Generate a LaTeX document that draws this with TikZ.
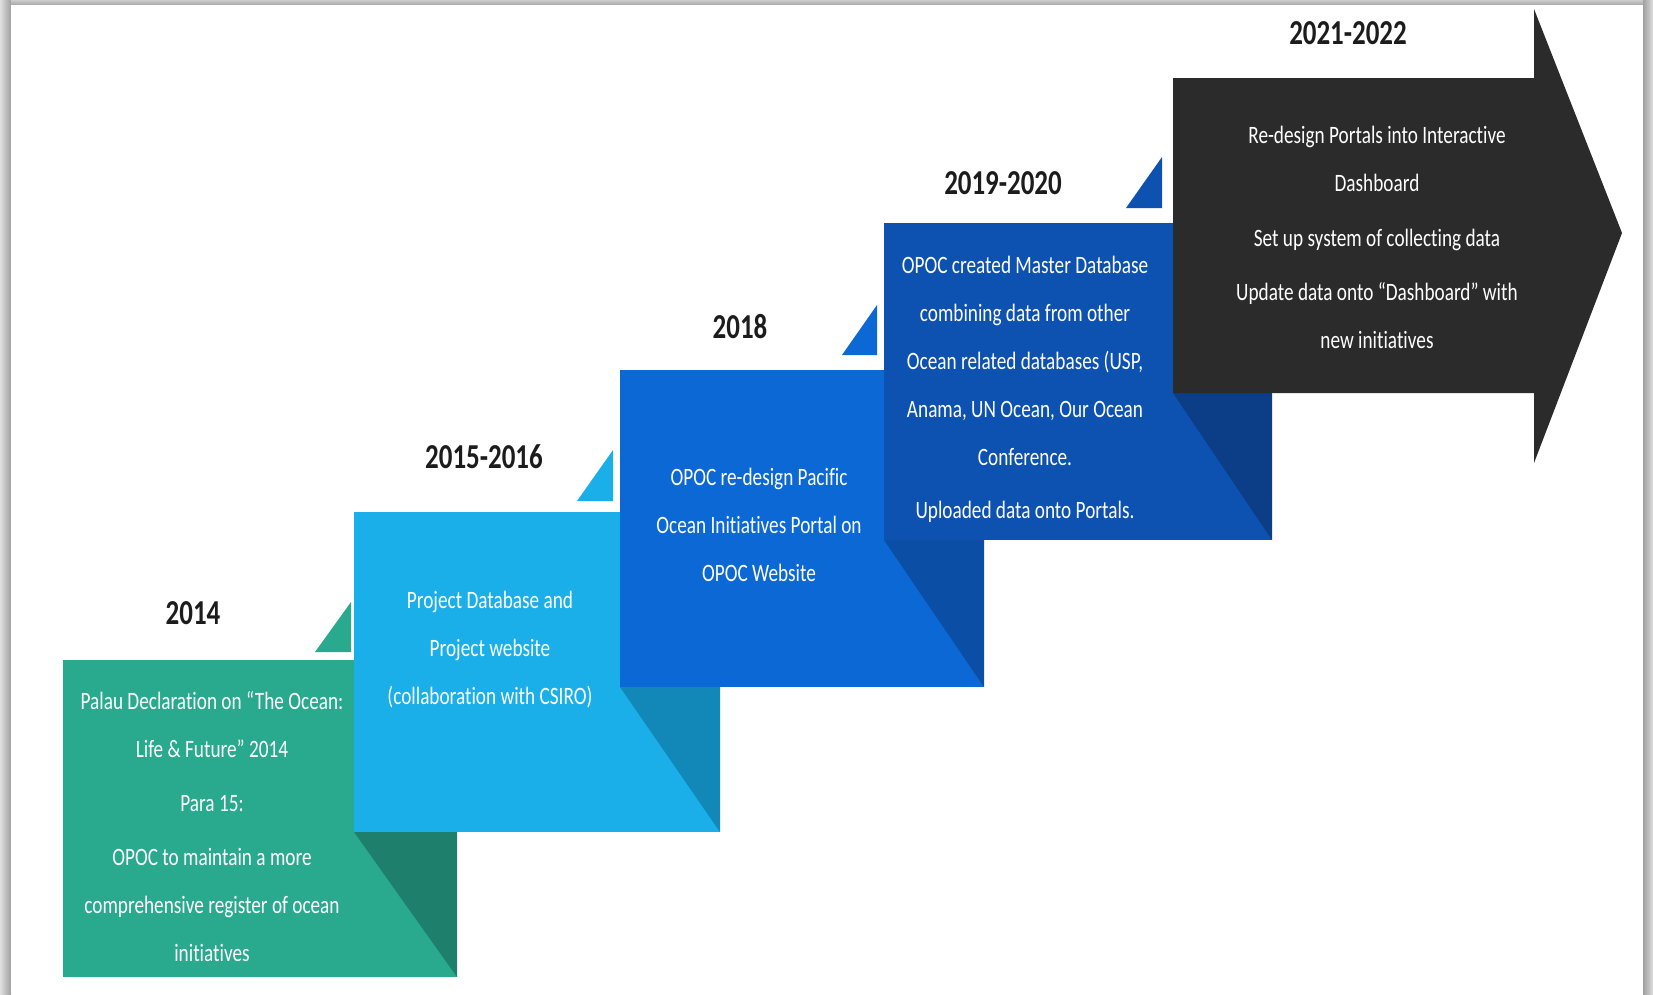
\documentclass[tikz,border=0pt]{standalone}
\usepackage{fontspec}
\setmainfont{Carlito}[FakeStretch=0.77, Ligatures=NoCommon]
\usetikzlibrary{calc}
\definecolor{cGreen}{HTML}{29AA8E}
\definecolor{cGreenD}{HTML}{1E806C}
\definecolor{cLBlue}{HTML}{1BAFEA}
\definecolor{cLBlueD}{HTML}{1188B8}
\definecolor{cBlue}{HTML}{0B68D4}
\definecolor{cBlueD}{HTML}{0A4EA6}
\definecolor{cNavy}{HTML}{0D52B0}
\definecolor{cNavyD}{HTML}{0C3E88}
\definecolor{cDark}{HTML}{2B2B2B}
\definecolor{cYear}{HTML}{1C1C1C}
\tikzset{
  year/.style={font=\bfseries\fontsize{35}{40}\selectfont, text=cYear, inner sep=0pt, anchor=center},
  body/.style={font=\fontsize{25}{48}\selectfont, text=white, align=center, inner sep=0pt, anchor=center},
}
\begin{document}
\begin{tikzpicture}[x=1pt,y=-1pt]
\useasboundingbox (0,0) rectangle (1653,994);
% frame shadow
\fill[gray!55] (0,0) rectangle (1653,994);
\shade[left color=gray!25, right color=gray!75] (0,0) rectangle (11,994);
\shade[left color=gray!75, right color=gray!25] (1643,0) rectangle (1653,994);
\shade[top color=gray!40, bottom color=gray!70] (11,0) rectangle (1643,5);
\fill[white] (11,5) rectangle (1643,994);

% 2014 (green)
\fill[cGreen] (63,660) rectangle (457,977);
\fill[cGreenD] (354,832) -- (457,832) -- (457,977) -- cycle;
\fill[cGreen] (315,652) -- (351,652) -- (351,602) -- cycle;
% 2015-2016 (light blue)
\fill[cLBlue] (354,512) rectangle (720,832);
\fill[cLBlueD] (620,687) -- (720,687) -- (720,832) -- cycle;
\fill[cLBlue] (577,501) -- (613,501) -- (613,450) -- cycle;
% 2018 (blue)
\fill[cBlue] (620,370) rectangle (984,687);
\fill[cBlueD] (884,540) -- (984,540) -- (984,687) -- cycle;
\fill[cBlue] (842,355) -- (877,355) -- (877,305) -- cycle;
% 2019-2020 (navy)
\fill[cNavy] (884,223) rectangle (1272,540);
\fill[cNavyD] (1173,393) -- (1272,393) -- (1272,540) -- cycle;
\fill[cNavy] (1126,208) -- (1162,208) -- (1162,157) -- cycle;
% 2021-2022 (dark arrow)
\fill[cDark] (1173,78) -- (1534,78) -- (1534,9) -- (1622,233) -- (1534,463) -- (1534,393) -- (1173,393) -- cycle;

% years
\node[year] (y2014) at (193,613) {2014};
\node[year] (y2015) at (484,457) {2015-2016};
\node[year] (y2018) at (740,327) {2018};
\node[year] (y2019) at (1003,183) {2019-2020};
\node[year] (y2021) at (1348,33) {2021-2022};

% texts
\node[body] (t2014) at (212,827) {Palau Declaration on “The Ocean:\\ Life \& Future” 2014\\[6pt] Para 15:\\[6pt] OPOC to maintain a more\\ comprehensive register of ocean\\ initiatives};
\node[body] (t2015) at (490,650) {Project Database and\\ Project website\\ (collaboration with CSIRO)};
\node[body] (t2018) at (759,525) {OPOC re-design Pacific\\ Ocean Initiatives Portal on\\ OPOC Website};
\node[body] (t2019) at (1025,389) {OPOC created Master Database\\ combining data from other\\ Ocean related databases (USP,\\ Anama, UN Ocean, Our Ocean\\ Conference.\\[5pt] Uploaded data onto Portals.};
\node[body] (t2021) at (1377,237) {Re-design Portals into Interactive\\ Dashboard\\[7pt] Set up system of collecting data\\[6pt] Update data onto “Dashboard” with\\ new initiatives};
\end{tikzpicture}
\end{document}
